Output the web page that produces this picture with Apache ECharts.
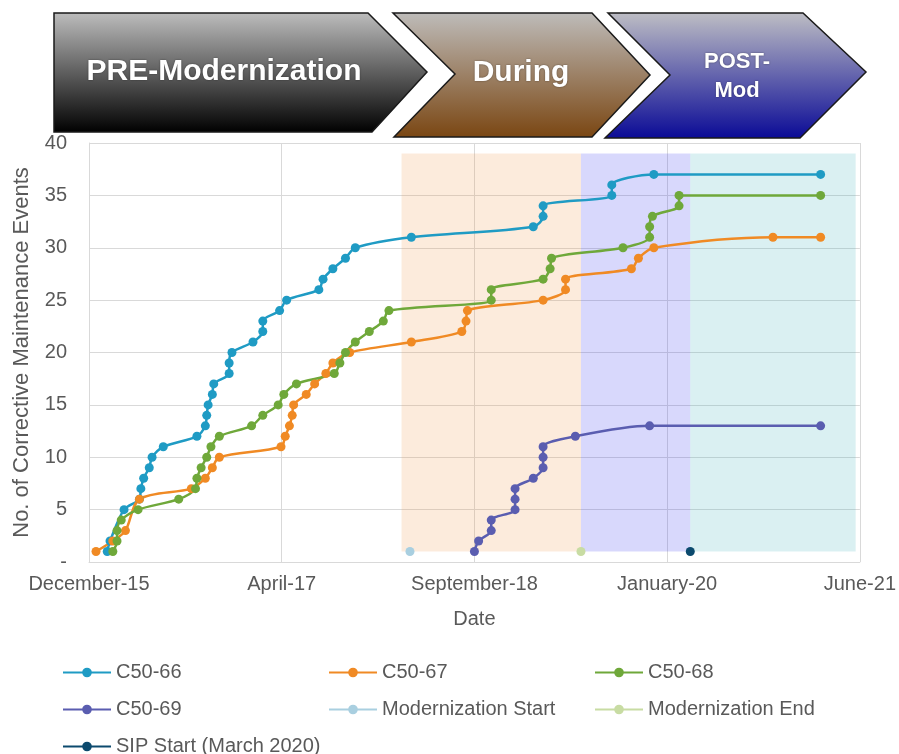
<!DOCTYPE html>
<html>
<head>
<meta charset="utf-8">
<script src="https://cdn.jsdelivr.net/npm/echarts@6/dist/echarts.min.js"></script>
<style>
  html, body { margin: 0; padding: 0; background: #ffffff; }
  #chart { width: 899px; height: 754px; }
</style>
</head>
<body>
<div id="chart"></div>
<script>
// ---- data (dates as decimal years, counts = cumulative corrective maintenance events) ----
const X_ORIGIN = 2015.95;
const X_SPAN = 5.5;
const X_STEP = 1.375;
const X_TICK_LABELS = ['December-15', 'April-17', 'September-18', 'January-20', 'June-21'];

const C5066_DATES = [2016.08, 2016.10, 2016.20, 2016.31, 2016.32, 2016.34, 2016.38, 2016.40, 2016.48, 2016.72, 2016.78, 2016.79, 2016.80, 2016.83, 2016.84, 2016.95, 2016.95, 2016.97, 2017.12, 2017.19, 2017.19, 2017.31, 2017.36, 2017.59, 2017.62, 2017.69, 2017.78, 2017.85, 2018.25, 2019.12, 2019.19, 2019.19, 2019.68, 2019.68, 2019.98, 2021.17];
const C5066_COUNTS = [1, 2, 5, 6, 7, 8, 9, 10, 11, 12, 13, 14, 15, 16, 17, 18, 19, 20, 21, 22, 23, 24, 25, 26, 27, 28, 29, 30, 31, 32, 33, 34, 35, 36, 37, 37];

const C5067_DATES = [2016.00, 2016.12, 2016.21, 2016.31, 2016.68, 2016.78, 2016.83, 2016.88, 2017.32, 2017.35, 2017.38, 2017.40, 2017.41, 2017.50, 2017.56, 2017.64, 2017.69, 2017.81, 2018.25, 2018.61, 2018.64, 2018.65, 2019.19, 2019.35, 2019.35, 2019.82, 2019.87, 2019.98, 2020.83, 2021.17];
const C5067_COUNTS = [1, 2, 3, 6, 7, 8, 9, 10, 11, 12, 13, 14, 15, 16, 17, 18, 19, 20, 21, 22, 23, 24, 25, 26, 27, 28, 29, 30, 31, 31];

const C5068_DATES = [2016.12, 2016.15, 2016.15, 2016.18, 2016.30, 2016.59, 2016.71, 2016.72, 2016.75, 2016.79, 2016.82, 2016.88, 2017.11, 2017.19, 2017.30, 2017.34, 2017.43, 2017.70, 2017.74, 2017.78, 2017.85, 2017.95, 2018.05, 2018.09, 2018.82, 2018.82, 2019.19, 2019.24, 2019.25, 2019.76, 2019.95, 2019.95, 2019.97, 2020.16, 2020.16, 2021.17];
const C5068_COUNTS = [1, 2, 3, 4, 5, 6, 7, 8, 9, 10, 11, 12, 13, 14, 15, 16, 17, 18, 19, 20, 21, 22, 23, 24, 25, 26, 27, 28, 29, 30, 31, 32, 33, 34, 35, 35];

const C5069_DATES = [2018.70, 2018.73, 2018.82, 2018.82, 2018.99, 2018.99, 2018.99, 2019.12, 2019.19, 2019.19, 2019.19, 2019.42, 2019.95, 2021.17];
const C5069_COUNTS = [1, 2, 3, 4, 5, 6, 7, 8, 9, 10, 11, 12, 13, 13];

const MOD_START = [2018.24, 1];
const MOD_END = [2019.46, 1];
const SIP_START = [2020.24, 1];

const PHASE_BOUNDS = [2018.18, 2019.46, 2020.24, 2021.42];
const PHASE_Y = [1, 39];

const SERIES_NAMES = ['C50-66', 'C50-67', 'C50-68', 'C50-69', 'Modernization Start', 'Modernization End', 'SIP Start (March 2020)'];
const PHASE_TITLES = ['PRE-Modernization', 'During', 'POST-\nMod'];

// ---- build ----
const FONT = '"Liberation Sans", Arial, Helvetica, sans-serif';
const toPts = (d, c) => d.map((x, i) => [+(x - X_ORIGIN).toFixed(4), c[i]]);

function lineSeries(name, dates, counts, color) {
  return {
    name: name, type: 'line', data: toPts(dates, counts),
    smooth: 0.3, symbol: 'circle', symbolSize: 9, showSymbol: true,
    lineStyle: { width: 2.5, color: color }, itemStyle: { color: color },
    z: 2, animation: false
  };
}
function pointSeries(name, pt, color) {
  return {
    name: name, type: 'line', data: [[+(pt[0] - X_ORIGIN).toFixed(4), pt[1]]],
    symbol: 'circle', symbolSize: 9, lineStyle: { width: 2.5, color: color },
    itemStyle: { color: color }, z: 2, animation: false
  };
}

const bandColors = ['rgba(240,155,80,0.2)', 'rgba(60,60,240,0.2)', 'rgba(70,180,190,0.2)'];
const bandData = [];
for (let i = 0; i < 3; i++) {
  bandData.push([
    { xAxis: PHASE_BOUNDS[i] - X_ORIGIN, yAxis: PHASE_Y[0], itemStyle: { color: bandColors[i] } },
    { xAxis: PHASE_BOUNDS[i + 1] - X_ORIGIN, yAxis: PHASE_Y[1] }
  ]);
}

function grad(top, bottom) {
  return new echarts.graphic.LinearGradient(0, 0, 0, 1, [
    { offset: 0, color: top }, { offset: 1, color: bottom }
  ]);
}

const option = {
  animation: false,
  backgroundColor: '#ffffff',
  textStyle: { fontFamily: FONT },
  grid: { left: 89, right: 37, top: 143, bottom: 192 },
  xAxis: {
    type: 'value', min: 0, max: X_SPAN, interval: X_STEP,
    axisLabel: {
      formatter: v => X_TICK_LABELS[Math.round(v / X_STEP)],
      color: '#595959', fontSize: 20, margin: 12, fontFamily: FONT
    },
    axisLine: { show: true, lineStyle: { color: '#d9d9d9', width: 1 } },
    axisTick: { show: false },
    splitLine: { show: true, lineStyle: { color: '#d9d9d9', width: 1 } },
    name: 'Date', nameLocation: 'middle', nameGap: 47,
    nameTextStyle: { color: '#595959', fontSize: 20, fontFamily: FONT }
  },
  yAxis: {
    type: 'value', min: 0, max: 40, interval: 5,
    axisLabel: {
      formatter: v => (v === 0 ? '-' : String(v)),
      color: '#595959', fontSize: 20, margin: 22, fontFamily: FONT
    },
    axisLine: { show: true, lineStyle: { color: '#d9d9d9', width: 1 } },
    axisTick: { show: false },
    splitLine: { show: true, lineStyle: { color: '#d9d9d9', width: 1 } },
    name: 'No. of Corrective Maintenance Events', nameLocation: 'middle', nameGap: 56,
    nameTextStyle: { color: '#595959', fontSize: 22, fontFamily: FONT }
  },
  legend: {
    data: SERIES_NAMES,
    left: 62, top: 654, width: 800, padding: 0,
    itemWidth: 48, itemHeight: 12, itemGap: 0,
    textStyle: { color: '#595959', fontSize: 20, width: 212, lineHeight: 37, fontFamily: FONT }
  },
  series: [
    lineSeries(SERIES_NAMES[0], C5066_DATES, C5066_COUNTS, '#1f9bc4'),
    lineSeries(SERIES_NAMES[1], C5067_DATES, C5067_COUNTS, '#f08a24'),
    lineSeries(SERIES_NAMES[2], C5068_DATES, C5068_COUNTS, '#6fa83a'),
    lineSeries(SERIES_NAMES[3], C5069_DATES, C5069_COUNTS, '#5a5db0'),
    pointSeries(SERIES_NAMES[4], MOD_START, '#a9cfe0'),
    pointSeries(SERIES_NAMES[5], MOD_END, '#c8dca3'),
    pointSeries(SERIES_NAMES[6], SIP_START, '#0c4a6e'),
    {
      type: 'line', data: [], z: 5, silent: true,
      markArea: { silent: true, data: bandData }
    }
  ],
  graphic: [
    { type: 'polygon', z: 100, shape: { points: [[54, 13], [368, 13], [427, 72], [372, 132], [54, 132]] },
      style: { fill: grad('#bdbdbd', '#000000'), stroke: '#1a1a1a', lineWidth: 1.5 } },
    { type: 'polygon', z: 100, shape: { points: [[393, 13], [592, 13], [650, 75], [592, 137], [394, 137], [455, 74]] },
      style: { fill: grad('#bebcba', '#7a4612'), stroke: '#1a1a1a', lineWidth: 1.5 } },
    { type: 'polygon', z: 100, shape: { points: [[608, 13], [803, 13], [866, 72], [800, 138], [605, 138], [670, 75]] },
      style: { fill: grad('#bebec4', '#0a0a96'), stroke: '#1a1a1a', lineWidth: 1.5 } },
    { type: 'text', z: 101, x: 224, y: 72,
      style: { text: PHASE_TITLES[0], fill: '#ffffff', fontSize: 30, fontWeight: 'bold', fontFamily: FONT,
               align: 'center', verticalAlign: 'middle', textAlign: 'center', textVerticalAlign: 'middle',
               textShadowColor: 'rgba(0,0,0,0.45)', textShadowBlur: 2 } },
    { type: 'text', z: 101, x: 521, y: 73,
      style: { text: PHASE_TITLES[1], fill: '#ffffff', fontSize: 30, fontWeight: 'bold', fontFamily: FONT,
               align: 'center', verticalAlign: 'middle', textAlign: 'center', textVerticalAlign: 'middle',
               textShadowColor: 'rgba(0,0,0,0.45)', textShadowBlur: 2 } },
    { type: 'text', z: 101, x: 737, y: 76,
      style: { text: PHASE_TITLES[2], fill: '#ffffff', fontSize: 22, fontWeight: 'bold', fontFamily: FONT,
               lineHeight: 29,
               align: 'center', verticalAlign: 'middle', textAlign: 'center', textVerticalAlign: 'middle',
               textShadowColor: 'rgba(0,0,0,0.45)', textShadowBlur: 2 } }
  ]
};

const chart = echarts.init(document.getElementById('chart'), null, { renderer: 'canvas' });
chart.setOption(option);
</script>
</body>
</html>
